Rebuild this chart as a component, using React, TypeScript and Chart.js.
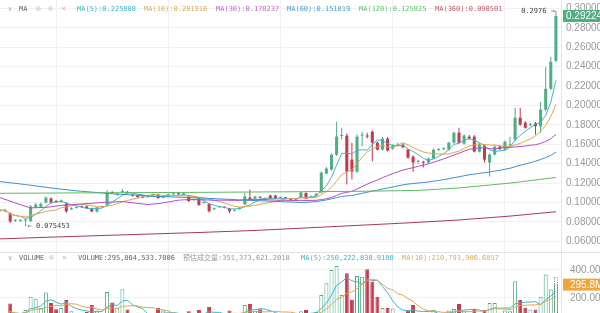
import { useEffect, useRef } from "react";
import { Chart, registerables } from "chart.js";

Chart.register(...registerables);

// ---------- data ----------
const opens = [
  0.0912, 0.0910, 0.0887, 0.0812, 0.0812, 0.0815, 0.0810, 0.0949, 0.0955, 0.1000,
  0.1041, 0.1015, 0.1005, 0.0990, 0.0930, 0.0945, 0.0962, 0.0960, 0.0940, 0.0908,
  0.0952, 0.0975, 0.1105, 0.1080, 0.1108, 0.1110, 0.1075, 0.1075, 0.1058, 0.1055,
  0.1075, 0.1082, 0.1050, 0.1070, 0.1085, 0.1090, 0.1086, 0.1062, 0.1025, 0.1041,
  0.0995, 0.0985, 0.0930, 0.0952, 0.0953, 0.0940, 0.0915, 0.0932, 0.0980, 0.1051,
  0.1040, 0.1058, 0.1036, 0.1072, 0.1072, 0.1048, 0.1050, 0.1033, 0.1028, 0.1051,
  0.1098, 0.1055, 0.1068, 0.1103, 0.1298, 0.1340, 0.1494, 0.1685, 0.1689, 0.1442,
  0.1319, 0.1690, 0.1685, 0.1730, 0.1617, 0.1545, 0.1658, 0.1555, 0.1590, 0.1597,
  0.1545, 0.1473, 0.1420, 0.1416, 0.1412, 0.1453, 0.1541, 0.1551, 0.1545, 0.1617,
  0.1720, 0.1607, 0.1679, 0.1679, 0.1525, 0.1586, 0.1412, 0.1494, 0.1576, 0.1545,
  0.1590, 0.1648, 0.1874, 0.1823, 0.1796, 0.1816, 0.1782, 0.1957, 0.2172, 0.2460,
];
const highs = [
  0.0930, 0.0935, 0.0900, 0.0830, 0.0828, 0.0828, 0.0975, 0.0995, 0.1000, 0.1062,
  0.1055, 0.1025, 0.1030, 0.1000, 0.0950, 0.0960, 0.0970, 0.0968, 0.0945, 0.0955,
  0.0970, 0.1130, 0.1115, 0.1095, 0.1143, 0.1118, 0.1082, 0.1082, 0.1065, 0.1070,
  0.1095, 0.1090, 0.1065, 0.1092, 0.1102, 0.1098, 0.1094, 0.1070, 0.1040, 0.1050,
  0.1010, 0.0995, 0.0948, 0.0966, 0.0960, 0.0945, 0.0930, 0.0955, 0.1100, 0.1134,
  0.1070, 0.1065, 0.1042, 0.1080, 0.1080, 0.1060, 0.1058, 0.1040, 0.1042, 0.1110,
  0.1105, 0.1072, 0.1098, 0.1320, 0.1365, 0.1505, 0.1833, 0.1771, 0.1710, 0.1617,
  0.1700, 0.1730, 0.1720, 0.1745, 0.1628, 0.1675, 0.1675, 0.1600, 0.1615, 0.1610,
  0.1555, 0.1485, 0.1440, 0.1430, 0.1465, 0.1555, 0.1560, 0.1570, 0.1625, 0.1730,
  0.1771, 0.1705, 0.1695, 0.1695, 0.1610, 0.1598, 0.1505, 0.1590, 0.1588, 0.1640,
  0.1679, 0.1977, 0.1977, 0.1840, 0.1820, 0.1830, 0.2039, 0.2399, 0.2502, 0.2976,
];
const lows = [
  0.0905, 0.0900, 0.0790, 0.0800, 0.0800, 0.075453, 0.0800, 0.0940, 0.0945, 0.0990,
  0.0990, 0.0998, 0.0998, 0.0895, 0.0922, 0.0938, 0.0945, 0.0932, 0.0900, 0.0895,
  0.0945, 0.0965, 0.1090, 0.1070, 0.1100, 0.1092, 0.1062, 0.1048, 0.1045, 0.1048,
  0.1068, 0.1040, 0.1043, 0.1062, 0.1078, 0.1078, 0.1075, 0.1005, 0.1018, 0.0965,
  0.0988, 0.0897, 0.0922, 0.0945, 0.0940, 0.0890, 0.0908, 0.0925, 0.0972, 0.1022,
  0.1035, 0.1040, 0.1022, 0.1035, 0.1035, 0.1040, 0.1038, 0.1020, 0.1020, 0.1045,
  0.1035, 0.1048, 0.1060, 0.1095, 0.1290, 0.1330, 0.1480, 0.1650, 0.1185, 0.1237,
  0.1305, 0.1580, 0.1660, 0.1422, 0.1535, 0.1535, 0.1525, 0.1545, 0.1580, 0.1560,
  0.1450, 0.1316, 0.1400, 0.1360, 0.1400, 0.1445, 0.1532, 0.1542, 0.1535, 0.1605,
  0.1605, 0.1595, 0.1648, 0.1515, 0.1515, 0.1412, 0.1267, 0.1485, 0.1540, 0.1535,
  0.1580, 0.1635, 0.1790, 0.1760, 0.1785, 0.1699, 0.1720, 0.1940, 0.2160, 0.2445,
];
const closes = [
  0.0920, 0.0922, 0.0805, 0.0820, 0.0818, 0.0820, 0.0959, 0.0979, 0.0985, 0.1051,
  0.1000, 0.1005, 0.1021, 0.0908, 0.0942, 0.0952, 0.0952, 0.0940, 0.0908, 0.0949,
  0.0962, 0.1103, 0.1098, 0.1087, 0.1118, 0.1100, 0.1070, 0.1055, 0.1052, 0.1062,
  0.1085, 0.1045, 0.1057, 0.1085, 0.1095, 0.1085, 0.1083, 0.1015, 0.1032, 0.0975,
  0.1002, 0.0910, 0.0940, 0.0958, 0.0946, 0.0910, 0.0922, 0.0948, 0.1062, 0.1031,
  0.1062, 0.1048, 0.1030, 0.1041, 0.1041, 0.1054, 0.1044, 0.1028, 0.1035, 0.1103,
  0.1041, 0.1065, 0.1090, 0.1308, 0.1350, 0.1494, 0.1679, 0.1697, 0.1319, 0.1319,
  0.1679, 0.1700, 0.1680, 0.1617, 0.1545, 0.1658, 0.1535, 0.1586, 0.1600, 0.1570,
  0.1463, 0.1412, 0.1426, 0.1410, 0.1453, 0.1545, 0.1548, 0.1558, 0.1617, 0.1720,
  0.1617, 0.1689, 0.1658, 0.1525, 0.1597, 0.1442, 0.1494, 0.1576, 0.1551, 0.1627,
  0.1600, 0.1874, 0.1802, 0.1771, 0.1806, 0.1786, 0.1957, 0.2172, 0.2450, 0.292242,
];
// volume in millions
const volumesM = [
  80, 70, 160, 60, 75, 114, 209, 195, 128, 240,
  165, 120, 128, 186, 105, 80, 70, 100, 150, 110,
  85, 242, 167, 130, 262, 118, 80, 95, 60, 70,
  90, 128, 110, 75, 80, 60, 65, 105, 70, 115,
  80, 138, 85, 70, 60, 110, 75, 90, 150, 157,
  105, 120, 70, 95, 85, 60, 65, 80, 75, 105,
  114, 80, 100, 221, 305, 400, 429, 221, 376, 190,
  357, 352, 405, 317, 209, 128, 128, 125, 90, 95,
  110, 150, 85, 80, 95, 115, 70, 80, 110, 121,
  157, 105, 95, 121, 90, 114, 164, 164, 95, 110,
  105, 319, 186, 130, 117, 118, 209, 368, 260, 295.8045,
];
const estimatedLastVolumeM = 351.373621;

// long moving averages as [candle index, value]
const ma30Lead = [[0, 0.1051], [3, 0.0995], [6, 0.0945], [9, 0.095], [12, 0.097], [16, 0.0985], [20, 0.1], [24, 0.101], [28, 0.0985]];
const ma60Lead = [[0, 0.1216], [5, 0.1185], [10, 0.115], [15, 0.112], [22, 0.109], [30, 0.1065], [40, 0.1045], [50, 0.102], [58, 0.1003]];
const ma120Read = [[0, 0.1095], [20, 0.11], [40, 0.1105], [55, 0.111], [70, 0.1115], [82, 0.1125], [90, 0.115], [100, 0.12], [109, 0.1258]];
const ma360Read = [[0, 0.0625], [10, 0.0643], [20, 0.066], [30, 0.0676], [40, 0.0693], [50, 0.0712], [60, 0.0738], [70, 0.0764], [80, 0.079], [90, 0.082], [100, 0.086], [109, 0.0905]];

const priceTicks = [0.06, 0.08, 0.1, 0.12, 0.14, 0.16, 0.18, 0.2, 0.22, 0.24, 0.26, 0.28, 0.3];
const volumeTicks = [200, 400];
const timeGridSlots = [11, 33, 55, 77, 99];
const SLOTS = 111; // candle slots across the plot (last one empty)

const priceLegend = [
  ["MA(5):0.225808", "#45b6c6", 77],
  ["MA(10):0.201916", "#d8ad5e", 144],
  ["MA(30):0.178237", "#c166d2", 216],
  ["MA(60):0.151819", "#4b9bd3", 287],
  ["MA(120):0.125825", "#68bf73", 359],
  ["MA(360):0.090501", "#c25b66", 435],
];
const volumeLegend = [
  ["VOLUME:295,804,533.7006", "#666666", 78],
  ["预估成交量:351,373,621.2018", "#999999", 183],
  ["MA(5):250,222,830.9188", "#45b6c6", 301],
  ["MA(10):210,793,906.6857", "#d8ad5e", 402],
];

// ---------- styles ----------
const GREEN = "#50ad86";
const RED = "#c13a4d";
const GRID = "#f1f1f1";
const MONO = '"DejaVu Sans Mono", "Noto Sans CJK SC", monospace';
const AXIS_FONT = { family: "Liberation Sans", size: 10 };

function movingAverage(values: number[], period: number, from: number) {
  const pts: { x: number; y: number }[] = [];
  for (let i = from; i < values.length; i++) {
    const start = Math.max(0, i - period + 1);
    let sum = 0;
    for (let k = start; k <= i; k++) sum += values[k];
    pts.push({ x: i, y: sum / (i - start + 1) });
  }
  return pts;
}
const toPoints = (arr: number[][]) => arr.map(([x, y]) => ({ x, y }));

const lineDs = (data: any[], color: string) => ({
  type: "line" as const,
  data,
  borderColor: color,
  borderWidth: 1,
  pointRadius: 0,
  fill: false,
  tension: 0,
  order: 0,
});

const makeXScale = () => ({
  type: "category" as const,
  offset: false,
  ticks: { display: false, autoSkip: false },
  grid: {
    offset: false,
    drawTicks: false,
    color: (c: any) => (timeGridSlots.includes(c.index) ? GRID : "rgba(0,0,0,0)"),
  },
  border: { display: false },
  afterFit: (s: any) => {
    s.height = 0;
    s.paddingLeft = 0;
    s.paddingRight = 0;
  },
});

const makeYScale = (min: number, max: number, ticks: number[], fmt: (v: number) => string, pad: number) => ({
  position: "right" as const,
  min,
  max,
  afterBuildTicks: (s: any) => {
    s.ticks = ticks.map((v) => ({ value: v }));
  },
  ticks: {
    autoSkip: false,
    color: "#999",
    font: AXIS_FONT,
    padding: pad,
    callback: (v: any) => fmt(Number(v)),
  },
  grid: { color: GRID, drawTicks: false },
  border: { color: "#e6e6e6" },
  afterFit: (s: any) => {
    s.width = 39;
    s.paddingTop = 0;
    s.paddingBottom = 0;
  },
});

export default function App() {
  const priceRef = useRef<HTMLCanvasElement>(null);
  const volRef = useRef<HTMLCanvasElement>(null);

  useEffect(() => {
    const n = closes.length;
    const idx = closes.map((_, i) => i);
    const labels = Array.from({ length: SLOTS }, (_, i) => i);
    const up = idx.map((i) => closes[i] >= opens[i]);
    const candleColor = idx.map((i) => (up[i] ? GREEN : RED));

    const priceMarks = {
      id: "priceMarks",
      afterDraw(chart: any) {
        const { ctx, chartArea } = chart;
        const xs = chart.scales.x;
        const ys = chart.scales.y;
        let hi = 0;
        let lo = 0;
        for (let i = 0; i < n; i++) {
          if (highs[i] > highs[hi]) hi = i;
          if (lows[i] < lows[lo]) lo = i;
        }
        ctx.save();
        ctx.font = `7px ${MONO}`;
        ctx.fillStyle = "#444";
        ctx.textBaseline = "middle";
        ctx.textAlign = "right";
        ctx.fillText(highs[hi].toFixed(4) + " →", xs.getPixelForValue(hi) - 1, ys.getPixelForValue(highs[hi]));
        ctx.textAlign = "left";
        ctx.fillText("← " + lows[lo].toFixed(6), xs.getPixelForValue(lo) + 2, ys.getPixelForValue(lows[lo]));
        const last = n - 1;
        const py = ys.getPixelForValue(closes[last]);
        ctx.fillStyle = GREEN;
        ctx.fillRect(chartArea.right + 2, py - 6, 40, 12);
        ctx.fillStyle = "#fff";
        ctx.font = `10px "Liberation Sans"`;
        ctx.fillText(closes[last].toFixed(6), chartArea.right + 5, py + 0.5);
        ctx.restore();
      },
    };

    const price = new Chart(priceRef.current!, {
      type: "bar",
      data: {
        labels,
        datasets: [
          {
            type: "bar",
            data: idx.map((i) => ({ x: i, y: [lows[i], highs[i]] })) as any,
            backgroundColor: candleColor,
            grouped: false,
            categoryPercentage: 1,
            barPercentage: 0.2,
            order: 3,
          },
          {
            type: "bar",
            data: idx.map((i) => ({ x: i, y: [opens[i], closes[i]] })) as any,
            backgroundColor: candleColor,
            grouped: false,
            categoryPercentage: 1,
            barPercentage: 0.6,
            minBarLength: 1,
            order: 2,
          },
          lineDs(toPoints(ma360Read), "#a83a50"),
          lineDs(toPoints(ma120Read), "#5cbb63"),
          lineDs([...toPoints(ma60Lead), ...movingAverage(closes, 60, 59)], "#3f8fcf"),
          lineDs([...toPoints(ma30Lead), ...movingAverage(closes, 30, 29)], "#b14ec6"),
          lineDs(movingAverage(closes, 10, 0), "#e2a650"),
          lineDs(movingAverage(closes, 5, 0), "#42b5c6"),
        ] as any,
      },
      options: {
        animation: false,
        responsive: false,
        events: [],
        layout: { padding: 0 },
        plugins: { legend: { display: false }, tooltip: { enabled: false } },
        scales: {
          x: makeXScale() as any,
          y: makeYScale(0.049, 0.3087, priceTicks, (v) => v.toFixed(6), 5) as any,
        },
      },
      plugins: [priceMarks],
    });

    const volMarks = {
      id: "volMarks",
      afterDraw(chart: any) {
        const { ctx, chartArea } = chart;
        const ys = chart.scales.y;
        const el = chart.getDatasetMeta(1).data[0];
        if (el) {
          const { x, y, base, width } = el.getProps(["x", "y", "base", "width"], true);
          ctx.save();
          ctx.setLineDash([1, 1.5]);
          ctx.strokeStyle = "#777";
          ctx.lineWidth = 1;
          ctx.strokeRect(Math.round(x - width / 2) + 0.5, Math.round(y) + 0.5, Math.round(width) - 1, base - y);
          ctx.restore();
        }
        const last = volumesM.length - 1;
        const py = ys.getPixelForValue(volumesM[last]);
        ctx.save();
        ctx.fillStyle = "#f0a43c";
        ctx.fillRect(chartArea.right + 2, py - 6, 40, 12);
        ctx.fillStyle = "#fff";
        ctx.font = `10px "Liberation Sans"`;
        ctx.textBaseline = "middle";
        ctx.textAlign = "left";
        ctx.fillText(volumesM[last].toFixed(1) + "M", chartArea.right + 9, py + 0.5);
        ctx.restore();
      },
    };

    const vol = new Chart(volRef.current!, {
      type: "bar",
      data: {
        labels,
        datasets: [
          {
            type: "bar",
            data: idx.map((i) => ({ x: i, y: volumesM[i] })),
            backgroundColor: idx.map((i) => (up[i] ? "#ffffff" : RED)),
            borderColor: candleColor,
            borderWidth: 1,
            grouped: false,
            categoryPercentage: 1,
            barPercentage: 0.78,
            order: 2,
          },
          {
            type: "bar",
            data: [{ x: n - 1, y: estimatedLastVolumeM }],
            backgroundColor: "rgba(0,0,0,0)",
            borderWidth: 0,
            grouped: false,
            categoryPercentage: 1,
            barPercentage: 0.78,
            order: 3,
          },
          lineDs(movingAverage(volumesM, 10, 0), "#e2a650"),
          lineDs(movingAverage(volumesM, 5, 0), "#42b5c6"),
        ] as any,
      },
      options: {
        animation: false,
        responsive: false,
        events: [],
        layout: { padding: 0 },
        plugins: { legend: { display: false }, tooltip: { enabled: false } },
        scales: {
          x: makeXScale() as any,
          y: makeYScale(0, 521.4, volumeTicks, (v) => v.toFixed(2) + "M", 9) as any,
        },
      },
      plugins: [volMarks],
    });

    return () => {
      price.destroy();
      vol.destroy();
    };
  }, []);

  const text = (s: string, color: string, left: number, top: number, size = 7, key?: string) => (
    <span
      key={key}
      style={{
        position: "absolute",
        left,
        top,
        color,
        fontFamily: MONO,
        fontSize: size,
        lineHeight: `${size}px`,
        whiteSpace: "pre",
      }}
    >
      {s}
    </span>
  );

  return (
    <div
      style={{
        position: "fixed",
        left: 0,
        top: 0,
        width: 600,
        height: 313,
        overflow: "hidden",
        background: "#fff",
      }}
    >
      <canvas ref={priceRef} width={600} height={252} style={{ position: "absolute", left: 0, top: 0 }} />
      <div style={{ position: "absolute", left: 0, top: 252, width: 600, height: 1, background: "#e4e4e4" }} />
      <canvas ref={volRef} width={600} height={73} style={{ position: "absolute", left: 0, top: 253 }} />

      {text("∨", "#aaa", 8, 6)}
      {text("MA", "#666", 19, 6)}
      {text("⊙", "#bbb", 36, 5, 8)}
      {text("⊙", "#bbb", 48, 5, 8)}
      {text("✕", "#bbb", 61, 5, 8)}
      {priceLegend.map(([s, c, x]) => text(s as string, c as string, x as number, 6, 7, s as string))}

      {text("∨", "#aaa", 8, 255)}
      {text("VOLUME", "#666", 19, 255)}
      {text("⊙", "#bbb", 49, 254, 8)}
      {text("✕", "#bbb", 62, 254, 8)}
      {volumeLegend.map(([s, c, x]) => text(s as string, c as string, x as number, 255, 7, s as string))}
    </div>
  );
}
